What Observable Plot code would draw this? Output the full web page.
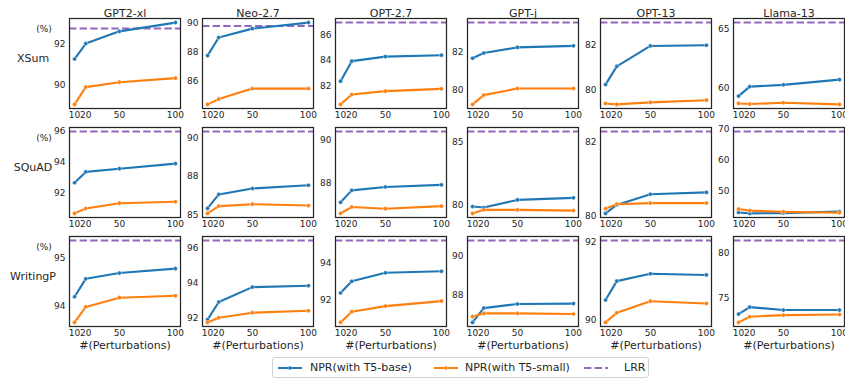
<!DOCTYPE html>
<html>
<head>
<meta charset="utf-8">
<script src="https://cdn.jsdelivr.net/npm/d3@7"></script>
<script src="https://cdn.jsdelivr.net/npm/@observablehq/plot@0.6"></script>
<style>
  html, body { margin: 0; padding: 0; background: white; }
  #wrap { position: relative; width: 845px; height: 382px; overflow: hidden; font-family: "DejaVu Sans", sans-serif; color: #262626; }
  #wrap svg { position: absolute; background: transparent !important; overflow: visible; }
  #legend { position: absolute; left: 272px; top: 357px; width: 377px; height: 21px; border: 1px solid #d0d0d0; border-radius: 3px; box-sizing: border-box; font-size: 11px; }
  #legend .item { position: absolute; top: 0; height: 19px; line-height: 19px; }
  #legend svg { position: static !important; vertical-align: middle; }
</style>
</head>
<body>
<div id="wrap"></div>
<script>
const models = ["GPT2-xl", "Neo-2.7", "OPT-2.7", "GPT-j", "OPT-13", "Llama-13"];
const datasets = ["XSum", "SQuAD", "WritingP"];
const perturbations = [10, 20, 50, 100];
const xTicks = [10, 20, 50, 100];

// NPR (with T5-base), per dataset, per model, values at 10/20/50/100 perturbations
const nprBaseXSum = [
  [91.27, 92.03, 92.63, 93.06],
  [87.75, 89.01, 89.63, 90.05],
  [82.37, 83.95, 84.31, 84.42],
  [81.66, 81.93, 82.22, 82.30],
  [80.24, 81.06, 81.98, 82.01],
  [59.33, 60.13, 60.28, 60.72]
];
const nprSmallXSum = [
  [89.04, 89.89, 90.13, 90.33],
  [84.35, 84.72, 85.45, 85.45],
  [80.53, 81.31, 81.58, 81.76],
  [79.28, 79.76, 80.10, 80.10],
  [79.39, 79.35, 79.44, 79.54],
  [58.71, 58.66, 58.77, 58.63]
];
const lrrXSum = [92.77, 89.82, 87.00, 83.50, 83.03, 65.53];

const nprBaseSQuAD = [
  [92.65, 93.36, 93.57, 93.90],
  [86.33, 87.06, 87.37, 87.54],
  [87.08, 87.64, 87.80, 87.90],
  [79.92, 79.84, 80.44, 80.60],
  [80.06, 80.29, 80.58, 80.63],
  [43.2, 42.9, 43.0, 43.5]
];
const nprSmallSQuAD = [
  [90.64, 90.96, 91.31, 91.40],
  [86.07, 86.45, 86.55, 86.48],
  [86.56, 86.86, 86.78, 86.90],
  [79.38, 79.66, 79.66, 79.60],
  [80.19, 80.31, 80.34, 80.34],
  [44.3, 43.8, 43.4, 43.1]
];
const lrrSQuAD = [96.00, 90.34, 90.40, 85.80, 82.28, 69.05];

const nprBaseWritingP = [
  [94.20, 94.57, 94.69, 94.78],
  [91.89, 92.91, 93.77, 93.85],
  [92.37, 93.00, 93.46, 93.54],
  [86.62, 87.35, 87.56, 87.58],
  [90.51, 91.00, 91.19, 91.16],
  [73.22, 73.99, 73.66, 73.66]
];
const nprSmallWritingP = [
  [93.67, 93.99, 94.18, 94.22],
  [91.73, 92.00, 92.29, 92.40],
  [90.78, 91.36, 91.66, 91.93],
  [86.92, 87.08, 87.08, 87.05],
  [89.93, 90.18, 90.48, 90.42],
  [72.29, 72.92, 73.10, 73.17]
];
const lrrWritingP = [95.36, 96.46, 95.20, 90.80, 92.05, 81.37];

// y tick values and labels per dataset, per model
const yTicksXSum = [[90, 92], [86, 88, 90], [82, 84, 86], [80, 82], [80, 82], [60, 65]];
const yTicksSQuAD = [[92, 94, 96], [86, 88, 90], [88, 90], [80, 85], [80, 82], [50, 60, 70]];
const yTicksWritingP = [[94, 95], [92, 94, 96], [92, 94], [88, 90], [90, 92], [75, 80]];
const yTickLabelsXSum = [["90", "92"], ["86", "88", "90"], ["82", "84", "86"], ["80", "82"], ["80", "82"], ["60", "65"]];
const yTickLabelsSQuAD = [["92", "94", "96"], ["85", "88", "90"], ["88", "90"], ["80", "85"], ["80", "82"], ["50", "60", "70"]];
const yTickLabelsWritingP = [["94", "95"], ["92", "94", "96"], ["92", "94"], ["88", "90"], ["90", "92"], ["75", "80"]];

const seriesNames = ["NPR(with T5-base)", "NPR(with T5-small)", "LRR"];
const xLabel = "#(Perturbations)";
const unitLabel = "(%)";

const rows = [
  {base: nprBaseXSum, small: nprSmallXSum, lrr: lrrXSum, ticks: yTicksXSum, labels: yTickLabelsXSum},
  {base: nprBaseSQuAD, small: nprSmallSQuAD, lrr: lrrSQuAD, ticks: yTicksSQuAD, labels: yTickLabelsSQuAD},
  {base: nprBaseWritingP, small: nprSmallWritingP, lrr: lrrWritingP, ticks: yTicksWritingP, labels: yTickLabelsWritingP}
];

const BLUE = "#1f77b4", ORANGE = "#ff7f0e", PURPLE = "#9467bd", INK = "#262626";
const frameLefts = [69, 201.8, 334.6, 467.4, 600.2, 733];
const frameTops = [18, 127, 236];
const FW = 111, FH = 90;

const wrap = document.getElementById("wrap");

rows.forEach((row, r) => {
  models.forEach((model, c) => {
    const base = perturbations.map((p, i) => ({p, v: row.base[c][i]}));
    const small = perturbations.map((p, i) => ({p, v: row.small[c][i]}));
    const lrr = row.lrr[c];
    const all = [...row.base[c], ...row.small[c], lrr];
    const lo = d3.min(all), hi = d3.max(all), pad = (hi - lo) * 0.05;
    const mL = c === 0 ? 69 : 30, mR = 5, mT = 18, mB = r === 2 ? 32 : 16;
    const labelMap = new Map(row.ticks[c].map((t, i) => [t, row.labels[c][i]]));
    const marks = [
      Plot.ruleY([lrr], {stroke: PURPLE, strokeWidth: 2, strokeDasharray: "7.4,3.2"}),
      Plot.line(base, {x: "p", y: "v", stroke: BLUE, strokeWidth: 2.1}),
      Plot.dot(base, {x: "p", y: "v", r: 2.1, fill: BLUE, stroke: "white", strokeWidth: 0.4}),
      Plot.line(small, {x: "p", y: "v", stroke: ORANGE, strokeWidth: 2.1}),
      Plot.dot(small, {x: "p", y: "v", r: 2.1, fill: ORANGE, stroke: "white", strokeWidth: 0.4}),
      Plot.frame({stroke: INK, strokeWidth: 1.25})
    ];
    if (r === 0) marks.push(Plot.text([model], {frameAnchor: "top", dy: -9, fontSize: 11, fill: INK}));
    if (c === 0) {
      marks.push(Plot.text([datasets[r]], {frameAnchor: "left", dx: -36.5, dy: -5, textAnchor: "middle", fontSize: 11, fill: INK}));
      marks.push(Plot.text([unitLabel], {frameAnchor: "top-left", dx: -25.5, dy: 7, textAnchor: "middle", fontSize: 9, fill: INK}));
    }
    if (r === 2) marks.push(Plot.text([xLabel], {frameAnchor: "bottom", dy: 22, fontSize: 11, fill: INK}));
    const svg = Plot.plot({
      width: FW + mL + mR,
      height: FH + mT + mB,
      marginLeft: mL, marginRight: mR, marginTop: mT, marginBottom: mB,
      style: {background: "transparent", overflow: "visible", fontFamily: "DejaVu Sans", fontSize: "9px", color: INK},
      x: {domain: [5.5, 104.5], ticks: xTicks, tickSize: 0, tickPadding: 3, label: null},
      y: {domain: [lo - pad, hi + pad], ticks: row.ticks[c], tickFormat: d => labelMap.get(d), tickSize: 0, tickPadding: 4, label: null},
      marks
    });
    svg.style.left = (frameLefts[c] - mL) + "px";
    svg.style.top = (frameTops[r] - mT) + "px";
    wrap.appendChild(svg);
  });
});

// legend
const legend = document.createElement("div");
legend.id = "legend";
const items = [
  {name: seriesNames[0], color: BLUE, dash: null, left: 4, textLeft: 37},
  {name: seriesNames[1], color: ORANGE, dash: null, left: 160, textLeft: 192},
  {name: seriesNames[2], color: PURPLE, dash: "7.4,3.2", left: 310, textLeft: 351}
];
items.forEach(it => {
  const sw = document.createElement("div");
  sw.className = "item";
  sw.style.left = it.left + "px";
  sw.innerHTML = `<svg width="26" height="10"><line x1="1" x2="25" y1="5" y2="5" stroke="${it.color}" stroke-width="2" ${it.dash ? `stroke-dasharray="${it.dash}"` : ""}/>${it.dash ? "" : `<circle cx="13" cy="5" r="2.1" fill="${it.color}" stroke="white" stroke-width="0.4"/>`}</svg>`;
  legend.appendChild(sw);
  const tx = document.createElement("div");
  tx.className = "item";
  tx.style.left = it.textLeft + "px";
  tx.textContent = it.name;
  legend.appendChild(tx);
});
wrap.appendChild(legend);
</script>
</body>
</html>
